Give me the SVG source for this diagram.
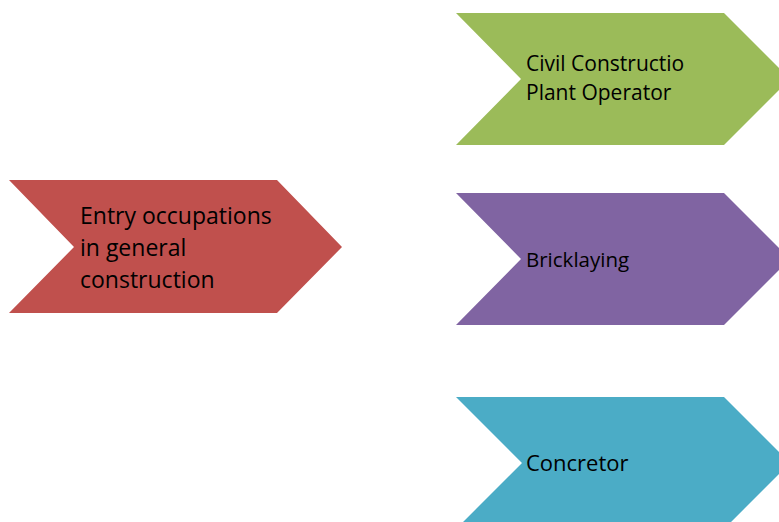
<svg xmlns="http://www.w3.org/2000/svg" width="779" height="522" viewBox="0 0 779 522">
  <style>
    .lbl { font-family: "Open Sans", "Liberation Sans", sans-serif; fill: #000000; }
    .shape { stroke: none; }
  </style>
  <rect width="779" height="522" fill="#ffffff"/>
  <g id="node-entry">
    <polygon class="shape" fill="#C0504D" points="9,180 277,180 342,247 277,313 9,313 74,247"/>
    <text class="lbl" font-size="23" x="80" y="224">Entry occupations</text>
    <text class="lbl" font-size="23" x="80" y="256">in general</text>
    <text class="lbl" font-size="23" x="80" y="288">construction</text>
  </g>
  <g id="node-civil">
    <polygon class="shape" fill="#9BBB59" points="456,13 724,13 790,79 724,145 456,145 521,79"/>
    <text class="lbl" font-size="21" x="526" y="71">Civil Constructio</text>
    <text class="lbl" font-size="21" x="526" y="99.5">Plant Operator</text>
  </g>
  <g id="node-brick">
    <polygon class="shape" fill="#8064A2" points="456,193 724,193 790,259 724,325 456,325 521,259"/>
    <text class="lbl" font-size="20.5" x="526" y="267">Bricklaying</text>
  </g>
  <g id="node-concretor">
    <polygon class="shape" fill="#4BACC6" points="456,397 724,397 790,463 724,529 456,529 522,463"/>
    <text class="lbl" font-size="22" x="526" y="471">Concretor</text>
  </g>
  <g id="connectors"></g>
</svg>
